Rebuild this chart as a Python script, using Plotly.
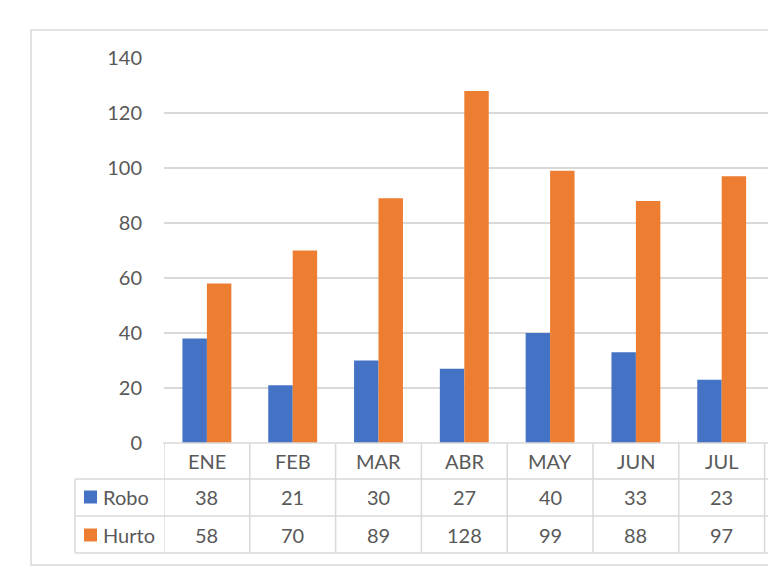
import plotly.graph_objects as go

categories = ["ENE", "FEB", "MAR", "ABR", "MAY", "JUN", "JUL"]
robo = [38, 21, 30, 27, 40, 33, 23]
hurto = [58, 70, 89, 128, 99, 88, 97]
series_names = ["Robo", "Hurto"]
colors = ["#4472C4", "#ED7D31"]
y_ticks = [0, 20, 40, 60, 80, 100, 120, 140]

W, H = 768, 569
L, R, T, B = 164, 0, 58, 126
PW, PH = W - L - R, H - T - B
CAT_W = 85.8
FONT = "Lato, Open Sans, sans-serif"
TXT = "#595959"
LINE = "#D9D9D9"

def px(xp):
    return (xp - L) / PW

def py(yp):
    return (T + PH - yp) / PH

fig = go.Figure()
for name, vals, col in zip(series_names, [robo, hurto], colors):
    fig.add_trace(go.Bar(x=categories, y=vals, name=name, marker_color=col,
                         marker_line_width=0, showlegend=False))

shapes = []
annotations = []
n = len(categories)
# outer border
shapes.append(dict(type="rect", xref="paper", yref="paper", x0=px(31), x1=px(800),
                   y0=py(30), y1=py(565), line=dict(color=LINE, width=1.5), layer="below"))
# table horizontal lines
y_rows = [443, 479, 516, 553]
for i, yy in enumerate(y_rows):
    x0 = px(163) if i == 0 else px(75)
    shapes.append(dict(type="line", xref="paper", yref="paper", x0=x0, x1=px(800),
                       y0=py(yy), y1=py(yy), line=dict(color=LINE, width=1.5)))
# vertical lines at category boundaries
for k in range(n + 1):
    shapes.append(dict(type="line", xref="x", yref="paper", x0=k - 0.5, x1=k - 0.5,
                       y0=py(443), y1=py(553), line=dict(color=LINE, width=1.5)))
shapes.append(dict(type="line", xref="paper", yref="paper", x0=px(75), x1=px(75),
                   y0=py(479), y1=py(553), line=dict(color=LINE, width=1.5)))

fnt = dict(family=FONT, size=20, color=TXT)
# header labels
for c in categories:
    annotations.append(dict(x=c, y=py(461), xref="x", yref="paper", text=c,
                            xanchor="center", yanchor="middle", showarrow=False, font=fnt))
row_centers = [497, 535]
for name, vals, col, yc in zip(series_names, [robo, hurto], colors, row_centers):
    for c, v in zip(categories, vals):
        annotations.append(dict(x=c, y=py(yc), xref="x", yref="paper", text=str(v),
                                xanchor="center", yanchor="middle", showarrow=False, font=fnt))
    shapes.append(dict(type="rect", xref="paper", yref="paper", x0=px(84), x1=px(97),
                       y0=py(yc - 6.5), y1=py(yc + 6.5), fillcolor=col, line=dict(width=0)))
    annotations.append(dict(x=px(101), y=py(yc), xref="paper", yref="paper", text=name,
                            xanchor="left", yanchor="middle", showarrow=False, font=fnt))

fig.update_layout(
    width=W, height=H,
    margin=dict(l=L, r=R, t=T, b=B, pad=0),
    paper_bgcolor="white", plot_bgcolor="white",
    barmode="group", bargap=0.43, bargroupgap=0,
    shapes=shapes, annotations=annotations,
    xaxis=dict(range=[-0.5, -0.5 + PW / CAT_W], showticklabels=False, showgrid=False,
               zeroline=False, showline=False, ticks=""),
    yaxis=dict(range=[0, 140], tickvals=y_ticks, showgrid=True, gridcolor=LINE, gridwidth=1.5,
               zeroline=False, showline=False, ticks="outside", ticklen=17,
               tickcolor="rgba(0,0,0,0)", tickfont=fnt),
    font=dict(family=FONT, color=TXT),
)

fig.write_html("out.html", config={"displayModeBar": False},
               post_script="document.body.style.margin='0';")
